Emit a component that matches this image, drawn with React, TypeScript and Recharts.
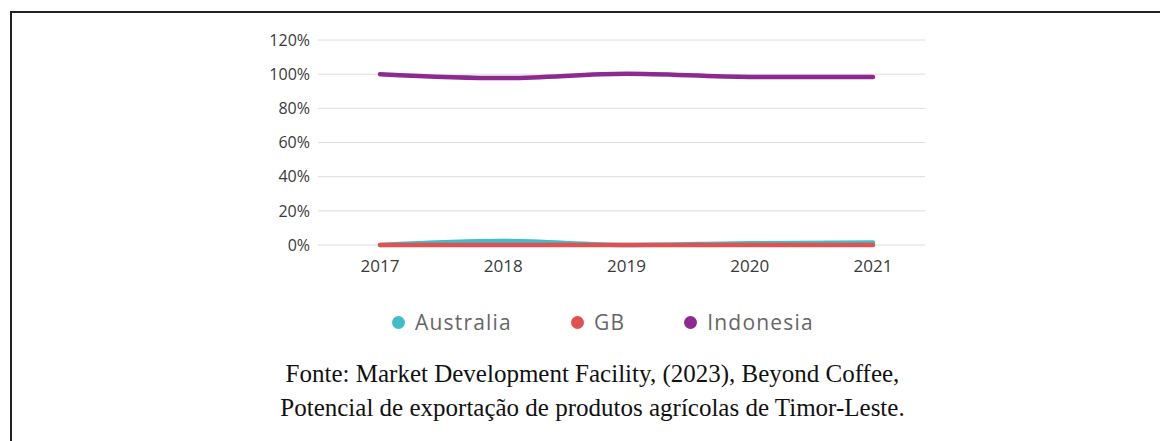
import { LineChart, Line, XAxis, YAxis, CartesianGrid } from "recharts";

const years = ["2017", "2018", "2019", "2020", "2021"];
const australia = [0, 0.023, 0, 0.01, 0.014];
const gb = [0, 0, 0, 0, 0];
const indonesia = [1.0, 0.977, 1.002, 0.984, 0.984];
const yTicks = [0, 0.2, 0.4, 0.6, 0.8, 1.0, 1.2];

const series = [
  { key: "Australia", values: australia, color: "#42bcc8" },
  { key: "GB", values: gb, color: "#e05252" },
  { key: "Indonesia", values: indonesia, color: "#8c2a8f" },
];

const captionLines = [
  "Fonte: Market Development Facility, (2023), Beyond Coffee,",
  "Potencial de exportação de produtos agrícolas de Timor-Leste.",
];

const data = years.map((year, i) => {
  const row: Record<string, string | number> = { year };
  series.forEach((s) => {
    row[s.key] = s.values[i];
  });
  return row;
});

const sans = "'Open Sans', sans-serif";

export default function App() {
  return (
    <div
      style={{
        position: "absolute",
        left: 0,
        top: 0,
        width: 1160,
        height: 441,
        background: "#fff",
        overflow: "hidden",
      }}
    >
      {/* frame: top and left rule only */}
      <div
        style={{
          position: "absolute",
          left: 10,
          top: 11,
          width: 1150,
          height: 430,
          borderTop: "2px solid #222",
          borderLeft: "2px solid #222",
        }}
      />
      <div style={{ position: "absolute", left: 0, top: 0 }}>
        <LineChart
          width={1160}
          height={300}
          data={data}
          margin={{ top: 40, right: 235, left: 0, bottom: 25 }}
        >
          <CartesianGrid vertical={false} stroke="#dedede" />
          <XAxis
            dataKey="year"
            padding={{ left: 62, right: 52 }}
            axisLine={false}
            tickLine={false}
            tickMargin={9}
            height={30}
            tick={{ fill: "#3a3a3a", fontSize: 17, fontFamily: sans }}
          />
          <YAxis
            width={318}
            domain={[0, 1.2]}
            ticks={yTicks}
            axisLine={false}
            tickLine={false}
            tickFormatter={(v) => `${Math.round(v * 100)}%`}
            tick={{ fill: "#3a3a3a", fontSize: 16, fontFamily: sans }}
          />
          {series.map((s) => (
            <Line
              key={s.key}
              type="monotone"
              dataKey={s.key}
              stroke={s.color}
              strokeWidth={4.5}
              strokeLinecap="round"
              dot={false}
              activeDot={false}
              isAnimationActive={false}
            />
          ))}
        </LineChart>
      </div>
      {/* legend */}
      <div
        style={{
          position: "absolute",
          left: 392,
          top: 308,
          display: "flex",
          alignItems: "center",
          fontFamily: sans,
          fontSize: 21,
          letterSpacing: 1.2,
          color: "#666",
        }}
      >
        {series.map((s) => (
          <div
            key={s.key}
            style={{ display: "flex", alignItems: "center", marginRight: 59 }}
          >
            <span
              style={{
                width: 13,
                height: 13,
                borderRadius: "50%",
                background: s.color,
                marginRight: 10,
                display: "inline-block",
              }}
            />
            <span>{s.key}</span>
          </div>
        ))}
      </div>
      {/* caption */}
      <div
        style={{
          position: "absolute",
          left: 0,
          width: 1185,
          top: 357,
          textAlign: "center",
          fontFamily: "'Liberation Serif', serif",
          fontSize: 25,
          lineHeight: "34px",
          color: "#111",
        }}
      >
        {captionLines.map((l) => (
          <div key={l}>{l}</div>
        ))}
      </div>
    </div>
  );
}
